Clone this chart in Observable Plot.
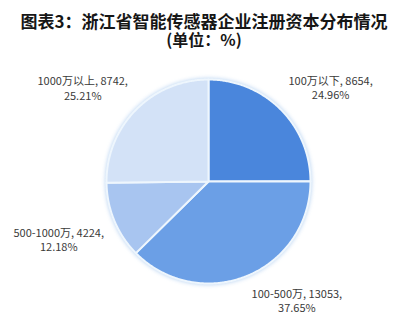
<!DOCTYPE html>
<html>
<head>
<meta charset="utf-8">
<script src="https://cdn.jsdelivr.net/npm/d3@7"></script>
<script src="https://cdn.jsdelivr.net/npm/@observablehq/plot@0.6"></script>
<style>
  html, body { margin: 0; padding: 0; background: #fff; }
  #chart { width: 400px; height: 336px; overflow: hidden; }
  .title { padding-top: 11px; padding-left: 8px; height: 37px; }
  .title div {
    font-family: "Noto Sans CJK SC", sans-serif;
    font-weight: bold; font-size: 17px; line-height: 19px; height: 19px;
    color: #161616; text-align: center; white-space: nowrap;
  }
  .title .sub { font-size: 16px; height: 18px; line-height: 19px; }
  svg g[aria-label="line"] { filter: drop-shadow(0 0 2px rgba(150, 190, 235, 0.7)); }
</style>
</head>
<body>
<div id="chart">
  <div class="title">
    <div>图表3：浙江省智能传感器企业注册资本分布情况</div>
    <div class="sub">(单位：%)</div>
  </div>
</div>
<script>
// Registered capital bands of Zhejiang smart-sensor companies
const categories = ["100万以下", "100-500万", "500-1000万", "1000万以上"];
const counts = [8654, 13053, 4224, 8742];
const shares = [24.96, 37.65, 12.18, 25.21];
const colors = ["#4a86dc", "#6b9fe6", "#a8c5f0", "#d3e2f7"];

const W = 400, H = 288;
const cx = 208, cy = 133, r = 102;

const rows = categories.map((c, i) => ({cat: c, count: counts[i], share: shares[i]}));
const arcs = d3.pie().sort(null).value(d => d.share)(rows);

// Slice outlines in unit coordinates (angle 0 at 12 o'clock, clockwise)
const pts = [];
for (const a of arcs) {
  pts.push({cat: a.data.cat, x: 0, y: 0});
  const n = Math.max(2, Math.ceil((a.endAngle - a.startAngle) / 0.01));
  for (let k = 0; k <= n; k++) {
    const t = a.startAngle + (a.endAngle - a.startAngle) * k / n;
    pts.push({cat: a.data.cat, x: Math.sin(t), y: Math.cos(t)});
  }
}

// Label boxes sit outside the pie, their near corner on the bisector
const ctx = document.createElement("canvas").getContext("2d");
ctx.font = "11px 'Noto Sans CJK SC'";
const labels = arcs.map(a => {
  const m = (a.startAngle + a.endAngle) / 2;
  const line1 = `${a.data.cat}, ${a.data.count},`;
  const line2 = `${a.data.share.toFixed(2)}%`;
  const w = Math.max(ctx.measureText(line1).width, ctx.measureText(line2).width);
  const sx = Math.sin(m) >= 0 ? 1 : -1;
  const sy = Math.cos(m) >= 0 ? 1 : -1;
  const R = 1.11;
  return {
    text: line1 + "\n" + line2,
    x: R * Math.sin(m) + sx * (w / 2) / r,
    y: R * Math.cos(m) + sy * 14 / r
  };
});

const plot = Plot.plot({
  width: W,
  height: H,
  style: {background: "transparent", fontFamily: "'Noto Sans CJK SC', sans-serif"},
  x: {domain: [-1, 1], range: [cx - r, cx + r], axis: null},
  y: {domain: [-1, 1], range: [cy + r, cy - r], axis: null},
  color: {domain: categories, range: colors},
  marks: [
    Plot.line(pts, {
      x: "x", y: "y", z: "cat", fill: "cat",
      stroke: "#eef6fd", strokeWidth: 2, strokeLinejoin: "round",
      curve: "linear-closed"
    }),
    Plot.text(labels, {
      x: "x", y: "y", text: "text",
      textAnchor: "middle", lineAnchor: "middle", lineHeight: 1.33,
      fontSize: 11, fill: "#3a3a3a"
    })
  ]
});
document.getElementById("chart").appendChild(plot);
</script>
</body>
</html>
